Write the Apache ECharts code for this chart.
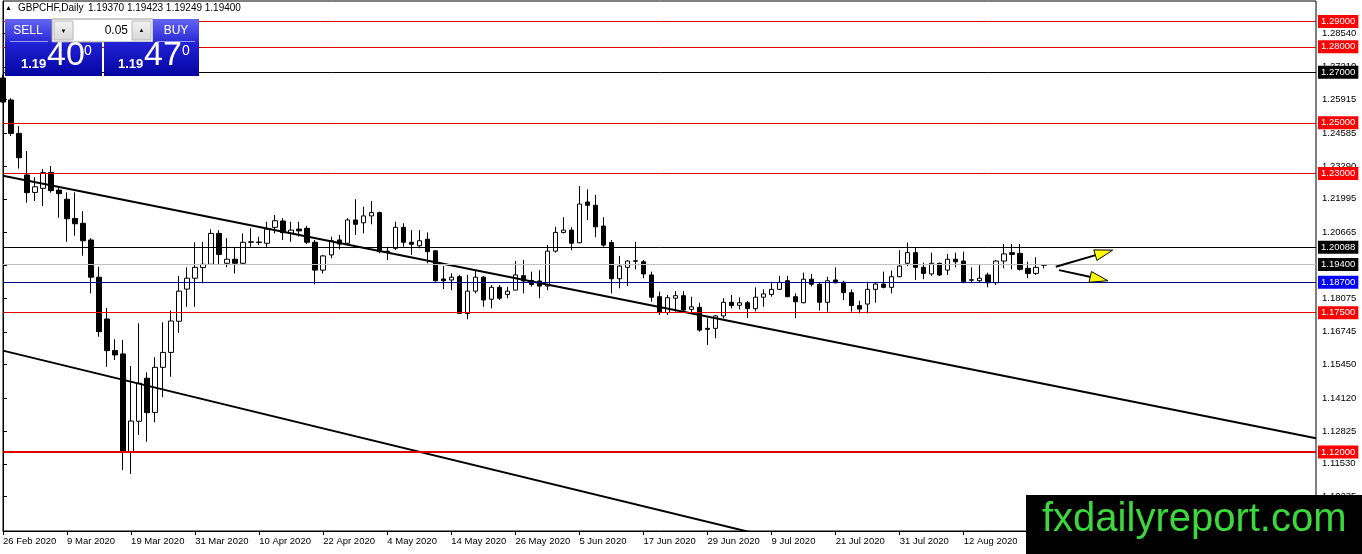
<!DOCTYPE html>
<html>
<head>
<meta charset="utf-8">
<script src="https://cdn.jsdelivr.net/npm/echarts@6/dist/echarts.min.js"></script>
<style>
html,body{margin:0;padding:0;background:#fff;}
#chart{width:1362px;height:554px;}
</style>
</head>
<body>
<div id="chart"></div>
<script>
// ---- data ----
const opens = [1.2677,1.2590,1.2458,1.2294,1.2225,1.2241,1.2304,1.2234,1.2198,1.2122,
1.2103,1.2037,1.1890,1.1725,1.1600,1.1587,1.1201,1.1321,1.1491,1.1356,
1.1534,1.1593,1.1716,1.1843,1.1886,1.1928,1.1941,1.2063,1.1945,1.1961,
1.1945,1.2028,1.2027,1.2024,1.2087,1.2112,1.2063,1.2080,1.2083,1.2028,
1.1918,1.1978,1.2037,1.2024,1.2116,1.2105,1.2132,1.2145,1.1991,1.2004,
1.2087,1.2028,1.2014,1.2040,1.1994,1.1883,1.1879,1.1892,1.1747,1.1835,
1.1890,1.1803,1.1850,1.1822,1.1839,1.1896,1.1877,1.1875,1.1855,1.1993,
1.2067,1.2076,1.2026,1.2187,1.2174,1.2092,1.2027,1.1884,1.1929,1.1953,
1.1951,1.1899,1.1813,1.1750,1.1807,1.1817,1.1763,1.1771,1.1688,1.1688,
1.1737,1.1791,1.1779,1.1789,1.1766,1.1811,1.1822,1.1842,1.1876,1.1813,
1.1789,1.1882,1.1862,1.1791,1.1879,1.1870,1.1829,1.1778,1.1784,1.1842,
1.1863,1.1850,1.1892,1.1945,1.1987,1.1929,1.1903,1.1945,1.1918,1.1961,
1.1954,1.1878,1.1876,1.1899,1.1868,1.1954,1.1987,1.1984,1.1925,1.1905,
1.19370];
const closes = [1.2582,1.2458,1.2362,1.2224,1.2247,1.2303,1.2232,1.2220,1.2121,1.2101,
1.2034,1.1890,1.1675,1.1600,1.1583,1.1201,1.1322,1.1471,1.1355,1.1534,
1.1593,1.1717,1.1835,1.1886,1.1929,1.1941,1.2063,1.1980,1.1961,1.1945,
1.2028,1.2030,1.2029,1.2080,1.2113,1.2066,1.2076,1.2073,1.2028,1.1918,
1.1974,1.2034,1.2021,1.2116,1.2099,1.2132,1.2145,1.1991,1.1993,1.2087,
1.2028,1.2020,1.2034,1.1991,1.1876,1.1876,1.1890,1.1747,1.1835,1.1890,
1.1800,1.1850,1.1807,1.1835,1.1899,1.1875,1.1861,1.1855,1.1993,1.2067,
1.2076,1.2024,1.2179,1.2174,1.2089,1.2017,1.1884,1.1934,1.1954,1.1955,
1.1903,1.1811,1.1750,1.1809,1.1817,1.1760,1.1773,1.1681,1.1684,1.1737,
1.1791,1.1778,1.1789,1.1766,1.1811,1.1824,1.1842,1.1870,1.1813,1.1793,
1.1882,1.1862,1.1791,1.1876,1.1868,1.1829,1.1778,1.1764,1.1842,1.1863,
1.1850,1.1892,1.1934,1.1987,1.1929,1.1905,1.1945,1.1899,1.1961,1.1951,
1.1872,1.1880,1.1886,1.1868,1.1954,1.1982,1.1980,1.1921,1.1905,1.1929,
1.19400];
const lows = [1.2578,1.2448,1.2319,1.2184,1.2191,1.2171,1.2224,1.2125,1.2030,1.2054,
1.1975,1.1826,1.1655,1.1536,1.1563,1.1128,1.1113,1.1267,1.1240,1.1317,
1.1416,1.1497,1.1670,1.1773,1.1773,1.1866,1.1938,1.1938,1.1929,1.1905,
1.1938,1.2010,1.2017,1.2010,1.2063,1.2037,1.2030,1.2050,1.2021,1.1862,
1.1905,1.1965,1.2000,1.2017,1.2057,1.2063,1.2099,1.1984,1.1958,1.1997,
1.2010,1.1978,1.2004,1.1945,1.1872,1.1843,1.1839,1.1745,1.1724,1.1826,
1.1773,1.1767,1.1800,1.1807,1.1839,1.1826,1.1853,1.1807,1.1839,1.1987,
1.2063,1.1997,1.2024,1.2116,1.2048,1.2010,1.1826,1.1846,1.1855,1.1921,
1.1886,1.1793,1.1741,1.1741,1.1754,1.1754,1.1747,1.1675,1.1622,1.1649,
1.1727,1.1767,1.1763,1.1729,1.1755,1.1773,1.1813,1.1839,1.1811,1.1728,
1.1787,1.1853,1.1758,1.1754,1.1866,1.1800,1.1754,1.1747,1.1747,1.1789,
1.1846,1.1826,1.1890,1.1934,1.1879,1.1882,1.1895,1.1895,1.1899,1.1929,
1.1866,1.1868,1.1868,1.1850,1.1859,1.1925,1.1921,1.1916,1.1886,1.1899,
1.19249];
const highs = [1.2689,1.2597,1.2487,1.2388,1.2285,1.2317,1.2329,1.2250,1.2225,1.2225,
1.2151,1.2044,1.1931,1.1768,1.1645,1.1642,1.1539,1.1708,1.1514,1.1574,
1.1712,1.1758,1.1895,1.1929,1.2028,1.2030,1.2079,1.2076,1.2044,1.2010,
1.2063,1.2083,1.2050,1.2109,1.2136,1.2123,1.2109,1.2109,1.2092,1.2037,
1.1978,1.2050,1.2057,1.2123,1.2198,1.2168,1.2191,1.2149,1.2010,1.2109,
1.2103,1.2076,1.2076,1.2067,1.1997,1.1934,1.1905,1.1899,1.1899,1.1918,
1.1895,1.1859,1.1859,1.1852,1.1954,1.1958,1.1912,1.1918,1.2017,1.2089,
1.2127,1.2087,1.2250,1.2237,1.2215,1.2127,1.2037,1.1974,1.1958,1.2030,
1.1958,1.1912,1.1833,1.1820,1.1835,1.1835,1.1813,1.1789,1.1728,1.1741,
1.1807,1.1820,1.1810,1.1796,1.1850,1.1842,1.1872,1.1895,1.1895,1.1826,
1.1908,1.1903,1.1868,1.1892,1.1929,1.1876,1.1842,1.1797,1.1872,1.1872,
1.1912,1.1916,1.1997,1.2027,1.2008,1.1947,1.1987,1.1947,1.1982,1.1987,
1.1991,1.1929,1.1938,1.1908,1.1958,1.2021,1.2021,1.2021,1.1951,1.1969,
1.19423];

// date tick labels, one every 8 daily bars (bar 0 = 26 Feb 2020)
const dateLabels = ['26 Feb 2020','9 Mar 2020','19 Mar 2020','31 Mar 2020','10 Apr 2020','22 Apr 2020',
  '4 May 2020','14 May 2020','26 May 2020','5 Jun 2020','17 Jun 2020','29 Jun 2020','9 Jul 2020',
  '21 Jul 2020','31 Jul 2020','12 Aug 2020','24 Aug 2020','3 Sep 2020','15 Sep 2020','25 Sep 2020','7 Oct 2020'];
const slotCount = 165; // bar slots shown on the axis (incl. empty future space)

// price scale tick labels
const priceTicks = [1.28540,1.27210,1.25915,1.24585,1.23290,1.21995,1.20665,1.19370,1.18075,1.16745,1.15450,1.14120,1.12825,1.11530,1.10235];

// horizontal levels
const levels = [1.29000,1.28000,1.27000,1.25000,1.23000,1.20088,1.19400,1.18700,1.17500,1.12000];
const levelKinds = ['red','red','black','red','red','black','bid','blue','red','redThick'];

// trend lines [barIndex, price]
const trendUpper = [[0,1.2291],[164,1.1254]];
const trendLower = [[0,1.1600],[95,1.0870]];

// arrows [fromBar, fromPrice, toBar, toPrice]
const arrows = [[131.5,1.1931,138.6,1.1997],[131.9,1.1918,138.0,1.1876]];

// header
const symbolTitle = 'GBPCHF,Daily';
const ohlcText = '1.19370 1.19423 1.19249 1.19400';

// ---- styles ----
const kindStyle = {
  red:{line:'#e00000', width:1, bg:'#ff0000'},
  redThick:{line:'#e00000', width:2, bg:'#ff0000'},
  black:{line:'#000000', width:1, bg:'#000000'},
  bid:{line:'#c0c0c0', width:1, bg:'#000000'},
  blue:{line:'#000090', width:1, bg:'#0000ff'}
};
const FONT = '"Liberation Sans", Arial, sans-serif';

const slots = Array.from({length: slotCount}, (_, i) => String(i));
const candleData = opens.map((o, i) => [o, closes[i], lows[i], highs[i]]);

const levelMarks = levels.map((v, i) => {
  const s = kindStyle[levelKinds[i]];
  return {
    yAxis: v,
    lineStyle: {color: s.line, width: s.width, type: 'solid'},
    label: {backgroundColor: s.bg}
  };
});

function renderArrow(params, api) {
  const p0 = api.coord([api.value(0), api.value(1)]);
  const p1 = api.coord([api.value(2), api.value(3)]);
  const dx = p1[0] - p0[0], dy = p1[1] - p0[1];
  const len = Math.hypot(dx, dy) || 1;
  const ux = dx / len, uy = dy / len;
  const hl = 18, hw = 5.5;
  const bx = p1[0] - ux * hl, by = p1[1] - uy * hl;
  const nx = -uy, ny = ux;
  return {
    type: 'group',
    children: [
      {type: 'line', shape: {x1: p0[0], y1: p0[1], x2: bx + ux * 3, y2: by + uy * 3},
       style: {stroke: '#000', lineWidth: 2}},
      {type: 'polygon', shape: {points: [[p1[0], p1[1]], [bx + nx * hw, by + ny * hw], [bx - nx * hw, by - ny * hw]]},
       style: {fill: '#ffff00', stroke: '#000', lineWidth: 1}}
    ]
  };
}

function grad(c1, c2) {
  return new echarts.graphic.LinearGradient(0, 0, 0, 1, [{offset: 0, color: c1}, {offset: 1, color: c2}]);
}

const chart = echarts.init(document.getElementById('chart'), null, {renderer: 'canvas'});

const graphics = [
  // header
  {type: 'text', x: 5, y: 8, z: 100, style: {text: '▲', fontSize: 7, fontFamily: FONT, fill: '#000', verticalAlign: 'middle'}},
  {type: 'text', x: 18, y: 8, z: 100, style: {text: symbolTitle, fontSize: 10, fontFamily: FONT, fill: '#000', verticalAlign: 'middle'}},
  {type: 'text', x: 88, y: 8, z: 100, style: {text: ohlcText, fontSize: 10, fontFamily: FONT, fill: '#000', verticalAlign: 'middle'}},
  // trade panel - sell
  {type: 'rect', z: 100, shape: {x: 5, y: 19, width: 47, height: 23}, style: {fill: grad('#6464f4', '#2a2ad6')}},
  {type: 'rect', z: 100, shape: {x: 5, y: 42, width: 97, height: 34}, style: {fill: grad('#2222d8', '#0404a0')}},
  {type: 'line', z: 101, shape: {x1: 10, y1: 41.5, x2: 48, y2: 41.5}, style: {stroke: '#9a9af4', lineWidth: 1}},
  {type: 'text', z: 101, x: 28, y: 31, style: {text: 'SELL', fontSize: 12, fontFamily: FONT, fill: '#fff', align: 'center', verticalAlign: 'middle'}},
  // spinner
  {type: 'rect', z: 100, shape: {x: 52, y: 19, width: 101, height: 23}, style: {fill: '#fff', stroke: '#9a9a9a', lineWidth: 1}},
  {type: 'rect', z: 101, shape: {x: 54, y: 21, width: 19, height: 19}, style: {fill: grad('#f2f2f2', '#d8d8d8'), stroke: '#b8b8b8', lineWidth: 1}},
  {type: 'rect', z: 101, shape: {x: 132, y: 21, width: 19, height: 19}, style: {fill: grad('#f2f2f2', '#d8d8d8'), stroke: '#b8b8b8', lineWidth: 1}},
  {type: 'text', z: 102, x: 63.5, y: 31, style: {text: '▼', fontSize: 6, fontFamily: FONT, fill: '#000', align: 'center', verticalAlign: 'middle'}},
  {type: 'text', z: 102, x: 141.5, y: 30, style: {text: '▲', fontSize: 6, fontFamily: FONT, fill: '#000', align: 'center', verticalAlign: 'middle'}},
  {type: 'text', z: 102, x: 128, y: 31, style: {text: '0.05', fontSize: 12, fontFamily: FONT, fill: '#000', align: 'right', verticalAlign: 'middle'}},
  // buy
  {type: 'rect', z: 100, shape: {x: 153, y: 19, width: 46, height: 23}, style: {fill: grad('#6464f4', '#2a2ad6')}},
  {type: 'rect', z: 100, shape: {x: 104, y: 42, width: 95, height: 34}, style: {fill: grad('#2222d8', '#0404a0')}},
  {type: 'line', z: 101, shape: {x1: 157, y1: 41.5, x2: 195, y2: 41.5}, style: {stroke: '#9a9af4', lineWidth: 1}},
  {type: 'text', z: 101, x: 176, y: 31, style: {text: 'BUY', fontSize: 12, fontFamily: FONT, fill: '#fff', align: 'center', verticalAlign: 'middle'}},
  // prices
  {type: 'text', z: 101, x: 21, y: 71, style: {text: '1.19', fontSize: 13, fontWeight: 'bold', fontFamily: FONT, fill: '#fff', verticalAlign: 'bottom'}},
  {type: 'text', z: 101, x: 47, y: 73, style: {text: '40', fontSize: 34, fontFamily: FONT, fill: '#fff', verticalAlign: 'bottom'}},
  {type: 'text', z: 101, x: 84, y: 44, style: {text: '0', fontSize: 14, fontFamily: FONT, fill: '#fff', verticalAlign: 'top'}},
  {type: 'text', z: 101, x: 118, y: 71, style: {text: '1.19', fontSize: 13, fontWeight: 'bold', fontFamily: FONT, fill: '#fff', verticalAlign: 'bottom'}},
  {type: 'text', z: 101, x: 144, y: 73, style: {text: '47', fontSize: 34, fontFamily: FONT, fill: '#fff', verticalAlign: 'bottom'}},
  {type: 'text', z: 101, x: 182, y: 44, style: {text: '0', fontSize: 14, fontFamily: FONT, fill: '#fff', verticalAlign: 'top'}},
  // watermark
  {type: 'rect', z: 100, shape: {x: 1026, y: 495, width: 336, height: 59}, style: {fill: '#000'}},
  {type: 'text', z: 101, x: 1042, y: 520, style: {text: 'fxdailyreport.com', fontSize: 40, fontFamily: FONT, fill: '#3cd83c', verticalAlign: 'middle'}}
];

const option = {
  animation: false,
  backgroundColor: '#ffffff',
  grid: {left: 3, right: 46, top: 1, bottom: 23, show: true, borderColor: '#000', borderWidth: 1, backgroundColor: '#fff'},
  xAxis: [
    {
      type: 'category', data: slots, boundaryGap: false,
      axisLine: {show: true, onZero: false, lineStyle: {color: '#000', width: 1}},
      axisTick: {show: true, interval: 7, length: 4, lineStyle: {color: '#000'}},
      axisLabel: {
        interval: 7, align: 'left', margin: 5, fontSize: 9.5, fontFamily: FONT, color: '#000',
        formatter: (v, i) => (i % 8 === 0 && dateLabels[i / 8]) ? dateLabels[i / 8] : ''
      },
      splitLine: {show: false}
    },
    {type: 'value', min: 0, max: slotCount - 1, show: false, splitLine: {show: false}}
  ],
  yAxis: {
    type: 'value', position: 'right', min: 1.08875, max: 1.2981,
    splitLine: {show: false},
    axisLine: {show: true, lineStyle: {color: '#000', width: 1}},
    axisTick: {show: true, customValues: priceTicks, length: 4, lineStyle: {color: '#000'}},
    axisLabel: {customValues: priceTicks, formatter: v => v.toFixed(5), margin: 6, fontSize: 9.5, fontFamily: FONT, color: '#000'}
  },
  series: [
    {
      type: 'candlestick', xAxisIndex: 0, yAxisIndex: 0, data: candleData, barWidth: 5, clip: true,
      itemStyle: {color: '#ffffff', color0: '#000000', borderColor: '#000000', borderColor0: '#000000', borderWidth: 1},
      markLine: {
        silent: true, symbol: ['none', 'none'], animation: false, precision: 5,
        label: {show: true, position: 'end', distance: 2,
                formatter: p => levels[p.dataIndex].toFixed(5),
                color: '#fff', fontSize: 9.5, fontFamily: FONT, padding: [2, 3, 1, 3]},
        data: levelMarks
      },
      z: 3
    },
    {type: 'line', xAxisIndex: 1, yAxisIndex: 0, data: trendUpper, symbol: 'none', clip: true,
     lineStyle: {color: '#000', width: 2}, z: 4},
    {type: 'line', xAxisIndex: 1, yAxisIndex: 0, data: trendLower, symbol: 'none', clip: true,
     lineStyle: {color: '#000', width: 2}, z: 4},
    {type: 'custom', xAxisIndex: 1, yAxisIndex: 0, data: arrows, renderItem: renderArrow,
     encode: {x: [0, 2], y: [1, 3]}, z: 5}
  ],
  graphic: graphics
};
chart.setOption(option);
</script>
</body>
</html>
